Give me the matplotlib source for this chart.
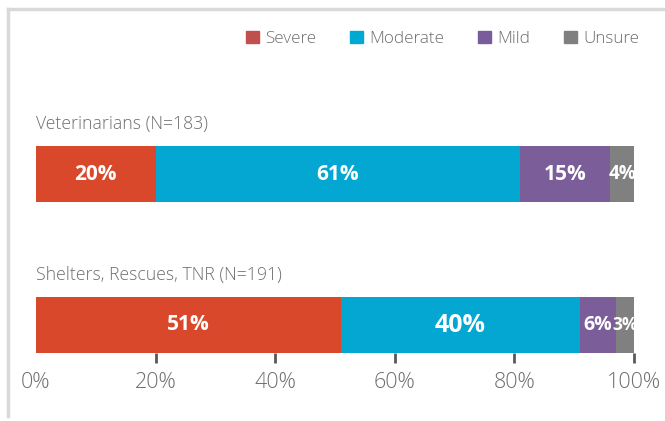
import matplotlib
matplotlib.use("Agg")
import matplotlib.pyplot as plt
from matplotlib.patches import Rectangle
from matplotlib.lines import Line2D

plt.rcParams['font.family'] = ['Open Sans', 'DejaVu Sans']

groups = ["Shelters, Rescues, TNR (N=191)", "Veterinarians (N=183)"]
categories = ["Severe", "Moderate", "Mild", "Unsure"]
values = {
    "Severe":   [51, 20],
    "Moderate": [40, 61],
    "Mild":     [6, 15],
    "Unsure":   [3, 4],
}
bar_colors = {"Severe": "#D9482B", "Moderate": "#04A7D1", "Mild": "#7B5D9A", "Unsure": "#808080"}
legend_colors = {"Severe": "#C0504D", "Moderate": "#00A9D4", "Mild": "#7A5C9B", "Unsure": "#808080"}
label_sizes = [[15, 18, 14, 12.5], [15, 15, 15, 13.5]]
xticks = [0, 20, 40, 60, 80, 100]
xticklabels = ["0%", "20%", "40%", "60%", "80%", "100%"]

TEXT = "#6E6E6E"
W, H = 665, 421
fig = plt.figure(figsize=(W / 100, H / 100), dpi=100)

left, right = 36, 634
top, bottom = 146, 353
ax = fig.add_axes([left / W, 1 - bottom / H, (right - left) / W, (bottom - top) / H])

h = 56 / 151
ypos = [0, 1]
cum = [0, 0]
for ci, cat in enumerate(categories):
    vals = values[cat]
    bars = ax.barh(ypos, vals, left=cum, height=h, color=bar_colors[cat], linewidth=0)
    for gi, (b, v) in enumerate(zip(bars, vals)):
        ax.text(cum[gi] + v / 2, ypos[gi], f"{v}%", ha="center", va="center",
                color="white", fontweight="bold", fontsize=label_sizes[gi][ci])
    cum = [c + v for c, v in zip(cum, vals)]

ax.set_xlim(0, 100)
ax.set_ylim(-h / 2, 1 + h / 2)
ax.set_yticks([])
for s in ax.spines.values():
    s.set_visible(False)
ax.set_xticks(xticks)
ax.set_xticklabels(xticklabels, fontsize=15.5, color=TEXT, fontweight="light")
ax.tick_params(axis="x", length=7, width=2, color="#595959", pad=7)
ax.xaxis.get_major_ticks()[0].tick1line.set_visible(False)

# group labels above bars
for gi, g in enumerate(groups):
    ax.text(0, ypos[gi] + h / 2 + 22 / 151, g, ha="left", va="center",
            fontsize=12.7, color=TEXT, fontweight="light")

# legend
handles = [Rectangle((0, 0), 1, 1, color=legend_colors[c]) for c in categories]
leg = fig.legend(handles, categories, loc="center left", bbox_to_anchor=(231 / W, 1 - 39 / H),
                 ncol=4, frameon=False, handlelength=0.75, handleheight=0.75,
                 handletextpad=0.35, columnspacing=2.0, labelcolor=TEXT,
                 prop={"size": 12.3, "weight": "light"})

# frame lines
fig.add_artist(Line2D([8 / W, 1], [1 - 9 / H, 1 - 9 / H], color="#D9D9D9", lw=2.5,
                      transform=fig.transFigure))
fig.add_artist(Line2D([8 / W, 8 / W], [1 - 9 / H, 1 - 416 / H], color="#D9D9D9", lw=2.5,
                      transform=fig.transFigure))

fig.savefig("out.png", dpi=100)
